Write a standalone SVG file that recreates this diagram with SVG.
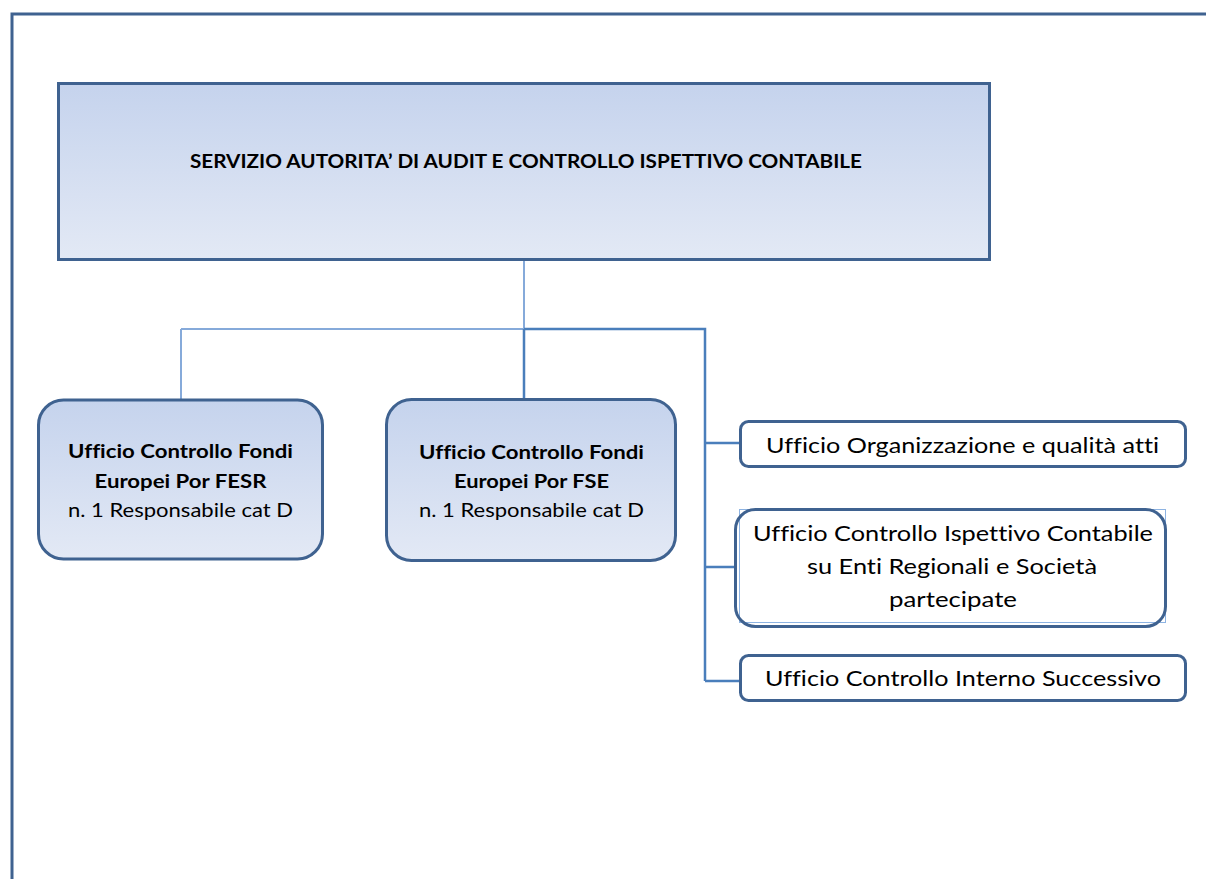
<svg xmlns="http://www.w3.org/2000/svg" width="1206" height="879" viewBox="0 0 1206 879">
<defs>
<linearGradient id="g" x1="0" y1="0" x2="0" y2="1">
<stop offset="0" stop-color="#C5D3ED"/>
<stop offset="1" stop-color="#E3E9F5"/>
</linearGradient>
<style>
.box{stroke:#3F6290;stroke-width:3}
.lt{fill:none;stroke:#86AADA;stroke-width:2}
.dk{fill:none;stroke:#4A7EBB;stroke-width:2.5}
text{font-family:Lato,"Liberation Sans",sans-serif;fill:#000;text-anchor:middle;font-variant-ligatures:none}
.b{font-weight:bold;font-size:19px}
.h{font-weight:bold;font-size:19px}
.r{font-size:19px}
.s{font-size:22px}
</style>
</defs>
<rect id="frame" x="12" y="14" width="1300" height="1000" fill="#fff" stroke="#3F6290" stroke-width="3"/>
<g id="connectors">
<path class="lt" d="M524 261 V329 M181 329 H524 M181 329 V400"/>
<path class="dk" d="M524 329 V399 M524 329 H705 V681 M705 443 H740 M705 567 H735 M705 681 H740"/>
</g>
<g id="header">
<rect class="box" x="58.5" y="83.5" width="931" height="176" fill="url(#g)"/>
<text class="h" x="526" y="168" textLength="672" lengthAdjust="spacingAndGlyphs">SERVIZIO AUTORITA’ DI AUDIT E CONTROLLO ISPETTIVO CONTABILE</text>
</g>
<g id="fesr">
<rect class="box" x="38.5" y="400" width="284" height="159" rx="25" fill="url(#g)"/>
<text class="b" x="180.5" y="458" textLength="225" lengthAdjust="spacingAndGlyphs">Ufficio Controllo Fondi</text>
<text class="b" x="180.5" y="488" textLength="172" lengthAdjust="spacingAndGlyphs">Europei Por FESR</text>
<text class="r" x="180.5" y="517" textLength="225" lengthAdjust="spacingAndGlyphs">n. 1 Responsabile cat D</text>
</g>
<g id="fse">
<rect class="box" x="386.5" y="399.5" width="289" height="161" rx="25" fill="url(#g)"/>
<text class="b" x="531.5" y="459" textLength="225" lengthAdjust="spacingAndGlyphs">Ufficio Controllo Fondi</text>
<text class="b" x="531.5" y="488" textLength="155" lengthAdjust="spacingAndGlyphs">Europei Por FSE</text>
<text class="r" x="531.5" y="517" textLength="225" lengthAdjust="spacingAndGlyphs">n. 1 Responsabile cat D</text>
</g>
<g id="organizzazione">
<rect class="box" x="740.5" y="421.5" width="445" height="45" rx="8" fill="#fff"/>
<text class="s" x="962.5" y="453" textLength="393" lengthAdjust="spacingAndGlyphs">Ufficio Organizzazione e qualità atti</text>
</g>
<g id="ispettivo">
<rect x="739.5" y="509.5" width="426" height="113" fill="#fff" stroke="#8DB3E2" stroke-width="1"/>
<rect class="box" x="735.5" y="509.5" width="430" height="117" rx="20" fill="none"/>
<text class="s" x="953" y="541" textLength="400" lengthAdjust="spacingAndGlyphs">Ufficio Controllo Ispettivo Contabile</text>
<text class="s" x="952" y="574" textLength="290" lengthAdjust="spacingAndGlyphs">su Enti Regionali e Società</text>
<text class="s" x="953" y="607" textLength="128" lengthAdjust="spacingAndGlyphs">partecipate</text>
</g>
<g id="interno">
<rect class="box" x="740.5" y="655.5" width="445" height="45" rx="8" fill="#fff"/>
<text class="s" x="963" y="686" textLength="396" lengthAdjust="spacingAndGlyphs">Ufficio Controllo Interno Successivo</text>
</g>
</svg>
